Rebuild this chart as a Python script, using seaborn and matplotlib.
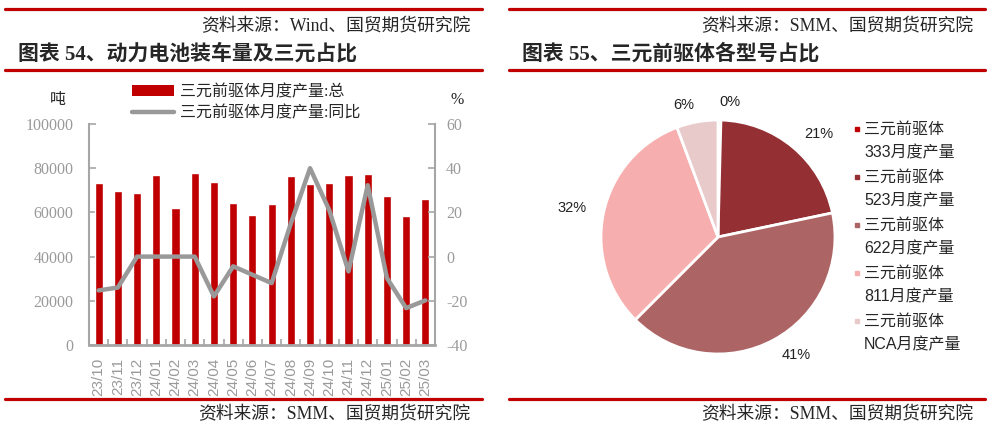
import matplotlib
matplotlib.use('Agg')
import matplotlib.pyplot as plt
import numpy as np
import pandas as pd
import seaborn as sns
from matplotlib.lines import Line2D
from matplotlib.patches import Patch

# data
months = ['23/10', '23/11', '23/12', '24/01', '24/02', '24/03', '24/04', '24/05', '24/06',
          '24/07', '24/08', '24/09', '24/10', '24/11', '24/12', '25/01', '25/02', '25/03']
output = [73300, 69900, 68800, 77000, 61800, 77700, 73900, 64100, 58800,
          63600, 76400, 72700, 73300, 76800, 77400, 67600, 58200, 65900]
yoy = [-15.3, -14.0, 0.0, 0.0, 0.0, 0.0, -18.0, -4.4, -8.2,
       -12.0, 15.0, 40.0, 21.0, -6.7, 32.3, -9.7, -23.3, -19.8]

pie_types = ['333', '523', '622', '811', 'NCA']
pie_share = [0.4, 21.3, 40.8, 31.8, 5.7]
pie_colors = ['#C00000', '#943034', '#AD6464', '#F7AEAE', '#E8CACB']

sns.set_theme(style='white')
SERIF = ['Liberation Serif', 'Noto Sans CJK SC']
SANS = ['Liberation Sans', 'Noto Sans CJK SC']
plt.rcParams['font.family'] = SERIF
plt.rcParams['axes.unicode_minus'] = False

RED = '#C00000'
SPINE = '#A6A6A6'
TICK = '#9A9A9A'
LINE = '#999999'

W, H = 991, 430
fig = plt.figure(figsize=(W / 100, H / 100), dpi=100)


def fx(px):
    return px / W


def fy(py):
    return 1 - py / H


def rule(x0, x1, y):
    fig.add_artist(Line2D([fx(x0), fx(x1)], [fy(y), fy(y)], color=RED, lw=2.3,
                          transform=fig.transFigure))


# frame lines and headings
for x0, x1 in [(5, 482), (509, 985)]:
    rule(x0, x1, 9)
    rule(x0, x1, 70)
    rule(x0, x1, 399)

src_kw = dict(ha='right', va='center', fontsize=12.8)
fig.text(fx(470), fy(27), '资料来源：Wind、国贸期货研究院', **src_kw)
fig.text(fx(973), fy(27), '资料来源：SMM、国贸期货研究院', **src_kw)
fig.text(fx(470), fy(415), '资料来源：SMM、国贸期货研究院', **src_kw)
fig.text(fx(973), fy(415), '资料来源：SMM、国贸期货研究院', **src_kw)
fig.text(fx(18), fy(54), '图表 54、动力电池装车量及三元占比', va='center', fontsize=15,
         fontweight='bold')
fig.text(fx(522), fy(54), '图表 55、三元前驱体各型号占比', va='center', fontsize=15,
         fontweight='bold')

# left chart: bars + yoy line
df = pd.DataFrame({'month': months, 'output': output, 'yoy': yoy})
ax = fig.add_axes([fx(89), fy(345), 346 / W, 221 / H])
sns.barplot(data=df, x='month', y='output', color=RED, width=0.42, saturation=1, ax=ax)
ax2 = ax.twinx()
sns.lineplot(x=np.arange(len(df)), y=df['yoy'], color=LINE, lw=3.2, ax=ax2)

ax.set_xlim(-0.5, len(df) - 0.5)
ax.set_ylim(0, 100000)
ax2.set_ylim(-40, 60)
ax.set_yticks(range(0, 100001, 20000))
ax2.set_yticks(range(-40, 61, 20))
ax.set_xticks(np.arange(-0.5, len(df), 1), minor=True)
ax.set_xlabel('')
ax.set_ylabel('')
ax2.set_ylabel('')
ax.tick_params(axis='y', direction='in', length=5, width=1.2, color=SPINE,
               labelcolor=TICK, labelsize=11.5, pad=11, left=True)
ax2.tick_params(axis='y', direction='in', length=5, width=1.2, color=SPINE,
                labelcolor=TICK, labelsize=11.5, pad=8, right=True)
ax.tick_params(axis='x', which='major', length=0, labelcolor=TICK, labelsize=11,
               pad=9, labelrotation=90)
ax.tick_params(axis='x', which='minor', direction='in', length=4, width=1.2,
               color=SPINE, bottom=True)
for lab in ax.get_xticklabels():
    lab.set_family(SANS)

for a in (ax, ax2):
    for s in a.spines.values():
        s.set_visible(False)
ax.spines['left'].set_visible(True)
ax.spines['bottom'].set_visible(True)
ax2.spines['right'].set_visible(True)
ax.spines['left'].set_color(SPINE)
ax.spines['left'].set_linewidth(1.5)
ax.spines['bottom'].set_color(SPINE)
ax.spines['bottom'].set_linewidth(2)
ax2.spines['right'].set_color(SPINE)
ax2.spines['right'].set_linewidth(1.5)
ax.grid(False)
ax2.grid(False)

handles = [Patch(facecolor=RED, edgecolor='none'), Line2D([0], [0], color=LINE, lw=3.2)]
labels = ['三元前驱体月度产量:总', '三元前驱体月度产量:同比']
ax2.legend(handles, labels, loc='upper left', bbox_to_anchor=(fx(132), fy(84)),
           bbox_transform=fig.transFigure, frameon=False, fontsize=11.5,
           handlelength=2.6, handletextpad=0.4, labelspacing=0.35,
           borderpad=0, borderaxespad=0)

fig.text(fx(58), fy(100), '吨', ha='center', va='center', fontsize=11.5)
fig.text(fx(457), fy(100), '%', ha='center', va='center', fontsize=11.5)

# right chart: pie
R = 117
cx, cy = 718, 237
axp = fig.add_axes([fx(cx - R), fy(cy + R), 2 * R / W, 2 * R / H])
axp.pie(pie_share, colors=pie_colors, startangle=90, counterclock=False,
        labels=[f'{v:.0f}%' for v in pie_share], labeldistance=1.15,
        wedgeprops=dict(edgecolor='white', linewidth=2),
        textprops=dict(fontsize=10.5, family=SANS, color='#222222'))
axp.set_xlim(-1, 1)
axp.set_ylim(-1, 1)

for i, (t, c) in enumerate(zip(pie_types, pie_colors)):
    y = 129 + 48 * i
    fig.add_artist(Line2D([fx(857)], [fy(y)], marker='s', markersize=3.2, color=c,
                          ls='', transform=fig.transFigure))
    fig.text(fx(864), fy(y), '三元前驱体', va='center', fontsize=11.5, family=SANS)
    fig.text(fx(864), fy(y + 24), f'{t}月度产量', va='center', fontsize=11.5, family=SANS)

fig.savefig('out.png', dpi=100)
